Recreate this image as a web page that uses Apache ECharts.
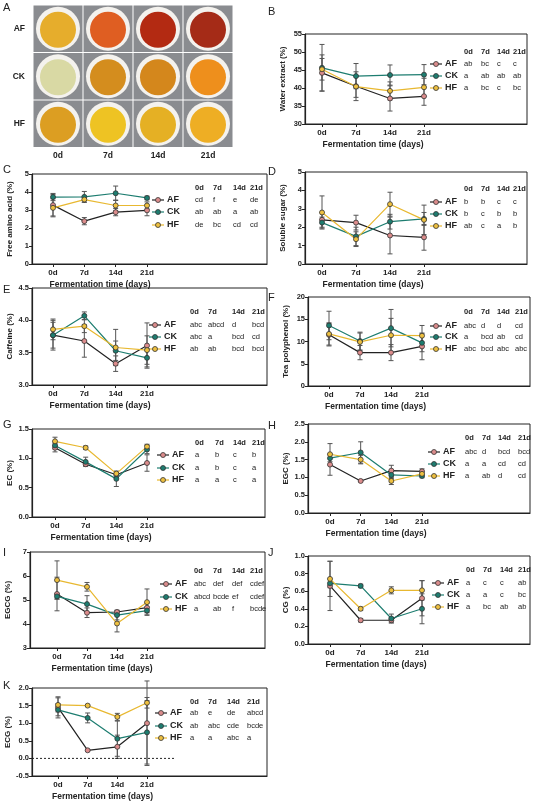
<!DOCTYPE html>
<html><head><meta charset="utf-8">
<script src="https://cdn.jsdelivr.net/npm/echarts@6/dist/echarts.min.js"></script>
<style>html,body{margin:0;padding:0;background:#fff}#main{width:535px;height:802px}</style>
</head><body><div id="main"></div>
<script>
// jours de fermentation et groupes
var days = [0, 7, 14, 21];
var dayLabels = ['0d', '7d', '14d', '21d'];
var groups = ['AF', 'CK', 'HF'];

// valeurs moyennes [AF, CK, HF] et écarts-types
var waterExtract = [[44.2, 40.5, 37.1, 37.7], [45.6, 43.3, 43.6, 43.7], [45.2, 40.4, 39.2, 40.2]];
var waterExtractSd = [[5, 4, 3.5, 2.5], [6.5, 3.5, 2.8, 2.8], [3, 3, 2.5, 2.5]];
var aminoAcid = [[3.27, 2.38, 2.88, 2.98], [3.72, 3.73, 3.93, 3.67], [3.12, 3.58, 3.25, 3.25]];
var aminoAcidSd = [[0.6, 0.2, 0.2, 0.3], [0.2, 0.3, 0.4, 0.1], [0.5, 0.15, 0.3, 0.2]];
var solubleSugar = [[2.4, 2.25, 1.55, 1.45], [2.25, 1.5, 2.3, 2.45], [2.8, 1.35, 3.25, 2.4]];
var solubleSugarSd = [[0.4, 0.4, 1, 0.7], [0.3, 0.5, 0.4, 0.35], [0.9, 0.4, 0.65, 0.8]];
var caffeine = [[3.77, 3.68, 3.33, 3.61], [3.77, 4.07, 3.53, 3.42], [3.86, 3.91, 3.58, 3.54]];
var caffeineSd = [[0.23, 0.25, 0.12, 0.35], [0.2, 0.06, 0.15, 0.14], [0.16, 0.1, 0.28, 0.22]];
var teaPolyphenol = [[11.5, 7.5, 7.5, 8.9], [13.6, 10.1, 13.0, 9.7], [11.7, 9.9, 11.4, 11.3]];
var teaPolyphenolSd = [[2.5, 1.6, 1.8, 3], [3.2, 2, 4.2, 2], [2.5, 2, 3.8, 2.3]];
var ec = [[1.18, 0.9, 0.72, 0.92], [1.22, 0.94, 0.65, 1.15], [1.29, 1.18, 0.74, 1.2]];
var ecSd = [[0.07, 0.02, 0.05, 0.14], [0.06, 0.08, 0.13, 0.07], [0.07, 0.03, 0.04, 0.04]];
var egc = [[1.36, 0.9, 1.19, 1.17], [1.54, 1.7, 1.07, 1.04], [1.65, 1.5, 0.9, 1.1]];
var egcSd = [[0.3, 0.02, 0.15, 0.07], [0.1, 0.3, 0.1, 0.05], [0.3, 0.12, 0.1, 0.06]];
var egcg = [[5.25, 4.47, 4.5, 4.68], [5.15, 4.83, 4.37, 4.56], [5.83, 5.55, 4.02, 4.91]];
var egcgSd = [[0.7, 0.2, 0.07, 0.2], [0.1, 0.35, 0.2, 0.15], [0.8, 0.18, 0.35, 0.55]];
var cg = [[0.66, 0.27, 0.27, 0.52], [0.69, 0.66, 0.29, 0.4], [0.74, 0.4, 0.61, 0.61]];
var cgSd = [[0.28, 0.02, 0.03, 0.2], [0.05, 0.02, 0.05, 0.17], [0.2, 0.02, 0.04, 0.11]];
var ecg = [[1.45, 0.23, 0.33, 1.0], [1.38, 1.15, 0.56, 0.74], [1.52, 1.5, 1.18, 1.58]];
var ecgSd = [[0.3, 0.02, 0.33, 1.2], [0.17, 0.14, 0.5, 0.9], [0.2, 0.02, 0.1, 0.15]];

// lettres de significativité
var lettersB = [['ab', 'bc', 'c', 'c'], ['a', 'ab', 'ab', 'ab'], ['a', 'bc', 'c', 'bc']];
var lettersC = [['cd', 'f', 'e', 'de'], ['ab', 'ab', 'a', 'ab'], ['de', 'bc', 'cd', 'cd']];
var lettersD = [['b', 'b', 'c', 'c'], ['b', 'c', 'b', 'b'], ['ab', 'c', 'a', 'b']];
var lettersE = [['abc', 'abcd', 'd', 'bcd'], ['abc', 'a', 'bcd', 'cd'], ['ab', 'ab', 'bcd', 'bcd']];
var lettersF = [['abc', 'd', 'd', 'cd'], ['a', 'bcd', 'ab', 'cd'], ['abc', 'bcd', 'abc', 'abc']];
var lettersG = [['a', 'b', 'c', 'b'], ['a', 'b', 'c', 'a'], ['a', 'a', 'c', 'a']];
var lettersH = [['abc', 'd', 'bcd', 'bcd'], ['a', 'a', 'cd', 'cd'], ['a', 'ab', 'd', 'cd']];
var lettersI = [['abc', 'def', 'def', 'cdef'], ['abcd', 'bcde', 'ef', 'cdef'], ['a', 'ab', 'f', 'bcde']];
var lettersJ = [['a', 'c', 'c', 'ab'], ['a', 'a', 'c', 'bc'], ['a', 'bc', 'ab', 'ab']];
var lettersK = [['ab', 'e', 'de', 'abcd'], ['ab', 'abc', 'cde', 'bcde'], ['a', 'a', 'abc', 'a']];

// couleurs des tasses (panneau A)
var cupColors = [['#e6ad2c', '#df5e22', '#b32a12', '#a52b17'], ['#d9d9a4', '#d48d1e', '#d4871c', '#ee8f1c'], ['#dc9e22', '#eec323', '#e5b024', '#eeae24']];

var lineColors = ['#222222', '#1d7d70', '#e8b830'];
var markerColors = ['#dc8c8c', '#1d7d70', '#eec040'];
var font = 'Liberation Sans';

var panels = [
	{ tag: 'B', name: 'Water extract (%)', mean: waterExtract, sd: waterExtractSd, letters: lettersB, y: [30, 55, 5], g: [305, 527, 34, 124], x0: 322, x21: 424, lx: 445, cols: [464, 481, 497, 513], hy: 52, ry: [64, 76, 88], ty: 12, tx: 268 },
	{ tag: 'C', name: 'Free amino acid (%)', mean: aminoAcid, sd: aminoAcidSd, letters: lettersC, y: [0, 5, 1], g: [32, 267, 174, 264], x0: 53, x21: 147, lx: 167, cols: [195, 213, 233, 250], hy: 188, ry: [200, 212, 225], ty: 170, tx: 3 },
	{ tag: 'D', name: 'Soluble sugar (%)', mean: solubleSugar, sd: solubleSugarSd, letters: lettersD, y: [0, 5, 1], g: [305, 527, 172, 264], x0: 322, x21: 424, lx: 445, cols: [464, 481, 497, 513], hy: 189, ry: [202, 214, 226], ty: 172, tx: 268 },
	{ tag: 'E', name: 'Caffeine (%)', mean: caffeine, sd: caffeineSd, letters: lettersE, y: [3, 4.5, 0.5], g: [32, 267, 288, 385], x0: 53, x21: 147, lx: 164, cols: [190, 208, 232, 252], hy: 312, ry: [325, 337, 349], ty: 290, tx: 3 },
	{ tag: 'F', name: 'Tea polyphenol (%)', mean: teaPolyphenol, sd: teaPolyphenolSd, letters: lettersF, y: [0, 20, 5], g: [308, 530, 297, 386], x0: 329, x21: 422, lx: 445, cols: [464, 481, 497, 515], hy: 312, ry: [326, 337, 349], ty: 298, tx: 268 },
	{ tag: 'G', name: 'EC (%)', mean: ec, sd: ecSd, letters: lettersG, y: [0, 1.5, 0.5], g: [32, 265, 429, 517], x0: 55, x21: 147, lx: 172, cols: [195, 215, 233, 252], hy: 443, ry: [455, 468, 480], ty: 425, tx: 3 },
	{ tag: 'H', name: 'EGC (%)', mean: egc, sd: egcSd, letters: lettersH, y: [0, 2.5, 0.5], g: [308, 530, 424, 513], x0: 330, x21: 422, lx: 443, cols: [465, 482, 498, 518], hy: 438, ry: [452, 464, 476], ty: 426, tx: 268 },
	{ tag: 'I', name: 'EGCG (%)', mean: egcg, sd: egcgSd, letters: lettersI, y: [3, 7, 1], g: [30, 265, 552, 648], x0: 57, x21: 147, lx: 175, cols: [194, 213, 232, 250], hy: 571, ry: [584, 597, 609], ty: 553, tx: 3 },
	{ tag: 'J', name: 'CG (%)', mean: cg, sd: cgSd, letters: lettersJ, y: [0, 1, 0.2], g: [308, 530, 556, 644], x0: 330, x21: 422, lx: 447, cols: [466, 483, 500, 518], hy: 570, ry: [583, 595, 607], ty: 553, tx: 268 },
	{ tag: 'K', name: 'ECG (%)', mean: ecg, sd: ecgSd, letters: lettersK, y: [-0.5, 2, 0.5], g: [32, 267, 688, 776], x0: 58, x21: 147, lx: 170, cols: [190, 208, 227, 247], hy: 702, ry: [713, 726, 738], ty: 686, tx: 3, zero: true }
];

var grids = [], xAxes = [], yAxes = [], series = [], graphics = [];

panels.forEach(function(p, k) {
	var sc = (p.x21 - p.x0) / 21;
	grids.push({ left: p.g[0], top: p.g[2], width: p.g[1] - p.g[0], height: p.g[3] - p.g[2], show: true, borderColor: '#222', borderWidth: 1 });
	xAxes.push({
		gridIndex: k, type: 'value', min: -(p.x0 - p.g[0]) / sc, max: (p.g[1] - p.x0) / sc,
		axisLine: { onZero: false, lineStyle: { color: '#222', width: 1.2 } },
		axisTick: { customValues: days, length: 3, lineStyle: { color: '#222' } },
		axisLabel: { customValues: days, formatter: function(v) { return v + 'd'; }, fontSize: 8, fontWeight: 'bold', color: '#222', fontFamily: font, margin: 5 },
		splitLine: { show: false }
	});
	yAxes.push({
		gridIndex: k, type: 'value', min: p.y[0], max: p.y[1], interval: p.y[2],
		name: p.name, nameLocation: 'middle', nameGap: 18,
		nameTextStyle: { fontSize: 8, fontWeight: 'bold', color: '#222', fontFamily: font },
		axisLine: { show: true, onZero: false, lineStyle: { color: '#222', width: 1.2 } },
		axisTick: { show: true, length: 3, lineStyle: { color: '#222' } },
		axisLabel: { fontSize: 7.5, fontWeight: 'bold', color: '#222', fontFamily: font, margin: 3,
			formatter: function(v) { return p.y[2] < 1 ? v.toFixed(1) : v; } },
		splitLine: { show: false }
	});
	if (p.zero) {
		series.push({ type: 'line', xAxisIndex: k, yAxisIndex: k, data: [[xAxes[k].min, 0], [27.5, 0]], symbol: 'none', silent: true,
			lineStyle: { color: '#222', width: 1, type: [2, 2] } });
	}
	for (var s = 0; s < 3; s++) {
		var pts = days.map(function(d, i) { return [d, p.mean[s][i], p.sd[s][i]]; });
		series.push({
			type: 'custom', xAxisIndex: k, yAxisIndex: k, data: pts, z: 1,
			renderItem: function(params, api) {
				var x = api.value(0), m = api.value(1), e = api.value(2);
				var a = api.coord([x, m + e]), b = api.coord([x, m - e]);
				var st = { stroke: '#555', lineWidth: 1 };
				return { type: 'group', children: [
					{ type: 'line', shape: { x1: a[0], y1: a[1], x2: b[0], y2: b[1] }, style: st },
					{ type: 'line', shape: { x1: a[0] - 2.5, y1: a[1], x2: a[0] + 2.5, y2: a[1] }, style: st },
					{ type: 'line', shape: { x1: b[0] - 2.5, y1: b[1], x2: b[0] + 2.5, y2: b[1] }, style: st }
				] };
			}
		});
		series.push({
			type: 'line', xAxisIndex: k, yAxisIndex: k, z: 3, data: pts.map(function(q) { return [q[0], q[1]]; }),
			symbol: 'circle', symbolSize: 5, lineStyle: { color: lineColors[s], width: 1.2 },
			itemStyle: { color: markerColors[s], borderColor: '#333', borderWidth: 0.8 }
		});
	}
	// lettre du panneau, titre de l'axe x, tableau des lettres
	graphics.push({ type: 'text', left: p.tx, top: p.ty - 6, style: { text: p.tag, fontSize: 11, fill: '#222', fontFamily: font } });
	graphics.push({ type: 'text', x: (p.x0 + p.x21) / 2, y: p.g[3] + 21, style: { text: 'Fermentation time (days)', fontSize: 8.5, fontWeight: 'bold', fill: '#222', fontFamily: font, align: 'center', verticalAlign: 'middle' } });
	dayLabels.forEach(function(d, i) {
		graphics.push({ type: 'text', x: p.cols[i], y: p.hy, style: { text: d, fontSize: 7.5, fontWeight: 'bold', fill: '#222', fontFamily: font, verticalAlign: 'middle' } });
	});
	for (var r = 0; r < 3; r++) {
		graphics.push({ type: 'line', shape: { x1: p.lx - 15, y1: p.ry[r], x2: p.lx - 3, y2: p.ry[r] }, style: { stroke: lineColors[r], lineWidth: 1.2 } });
		graphics.push({ type: 'circle', shape: { cx: p.lx - 9, cy: p.ry[r], r: 2.5 }, style: { fill: markerColors[r], stroke: '#333', lineWidth: 0.8 } });
		graphics.push({ type: 'text', x: p.lx, y: p.ry[r], style: { text: groups[r], fontSize: 9, fontWeight: 'bold', fill: '#222', fontFamily: font, verticalAlign: 'middle' } });
		for (var c = 0; c < 4; c++) {
			graphics.push({ type: 'text', x: p.cols[c], y: p.ry[r], style: { text: p.letters[r][c], fontSize: 7.5, fill: '#222', fontFamily: font, verticalAlign: 'middle' } });
		}
	}
});

// panneau A : tasses de thé
graphics.push({ type: 'text', left: 3, top: 2, style: { text: 'A', fontSize: 11, fill: '#222', fontFamily: font } });
var cellW = 50, cellH = 47.5, ax = 33, ay = 5;
for (var r = 0; r < 3; r++) {
	graphics.push({ type: 'text', x: 25, y: ay + cellH * r + cellH / 2, style: { text: groups[r], fontSize: 8.5, fontWeight: 'bold', fill: '#222', fontFamily: font, align: 'right', verticalAlign: 'middle' } });
	for (var c = 0; c < 4; c++) {
		var cx = ax + cellW * c, cy = ay + cellH * r;
		graphics.push({ type: 'rect', shape: { x: cx + 0.5, y: cy + 0.5, width: cellW - 1, height: cellH - 1 }, style: { fill: '#8a8c90' } });
		graphics.push({ type: 'circle', shape: { cx: cx + cellW / 2, cy: cy + cellH / 2, r: 22 }, style: { fill: '#f4f2ee' } });
		graphics.push({ type: 'circle', shape: { cx: cx + cellW / 2, cy: cy + cellH / 2 + 1, r: 18 }, style: { fill: cupColors[r][c] } });
	}
}
dayLabels.forEach(function(d, i) {
	graphics.push({ type: 'text', x: ax + cellW * i + cellW / 2, y: 156, style: { text: d, fontSize: 8.5, fontWeight: 'bold', fill: '#222', fontFamily: font, align: 'center', verticalAlign: 'middle' } });
});

var myChart = echarts.init(document.getElementById('main'));
myChart.setOption({
	animation: false,
	grid: grids, xAxis: xAxes, yAxis: yAxes, series: series, graphic: graphics
});
</script>
</body></html>
